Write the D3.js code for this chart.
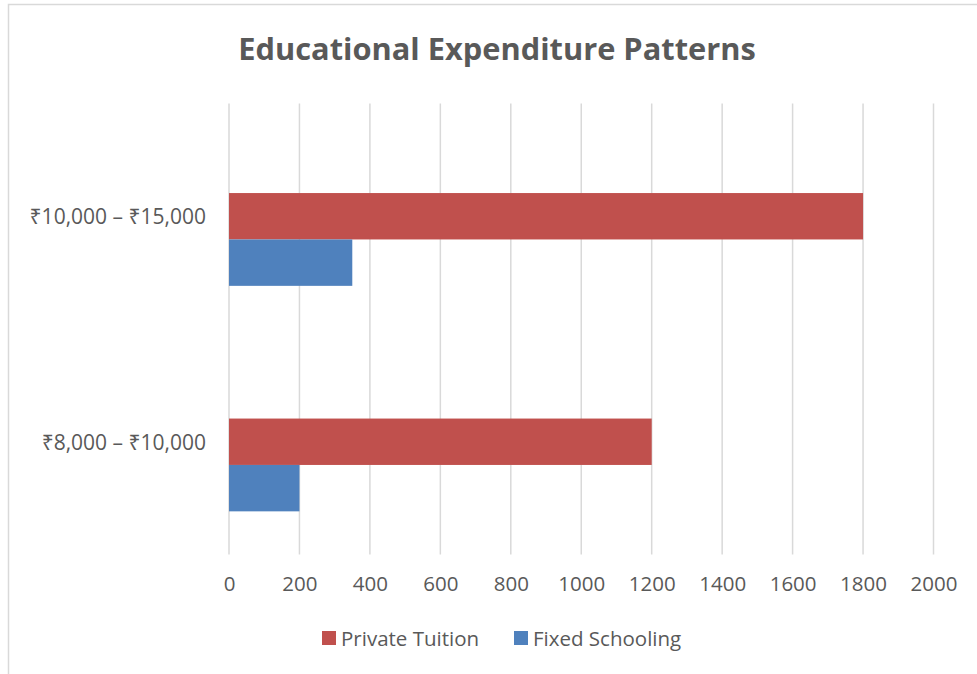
<!DOCTYPE html>
<html>
<head>
<meta charset="utf-8">
<script src="https://cdn.jsdelivr.net/npm/d3@7"></script>
<style>
  body { margin: 0; background: #fff; }
  text { font-family: "Open Sans", "Noto Sans", "DejaVu Sans", sans-serif; fill: #595959; }
</style>
</head>
<body>
<div id="viz"></div>
<script>
var width = 977,
    height = 674;

// data
var categories = ["₹10,000 – ₹15,000", "₹8,000 – ₹10,000"];
var seriesNames = ["Private Tuition", "Fixed Schooling"];
var seriesColors = ["#c0504d", "#4f81bd"];
var privateTuition = [1800, 1200];
var fixedSchooling = [350, 200];
var xTicks = [0, 200, 400, 600, 800, 1000, 1200, 1400, 1600, 1800, 2000];

var seriesValues = [privateTuition, fixedSchooling];

var svg = d3.select("#viz").append("svg")
    .attr("width", width)
    .attr("height", height);

// chart border
svg.append("rect")
    .attr("x", 8.5).attr("y", 4.5)
    .attr("width", 990).attr("height", 690)
    .style("fill", "#fff")
    .style("stroke", "#d9d9d9")
    .style("stroke-width", 1.5);

svg.append("text")
    .attr("x", 497).attr("y", 48)
    .attr("text-anchor", "middle")
    .attr("dominant-baseline", "central")
    .style("font-size", "30.8px")
    .style("font-weight", "bold")
    .text("Educational Expenditure Patterns");

var x = d3.scaleLinear().domain([0, 2000]).range([229, 933.5]);
var y = d3.scaleBand().domain(categories).range([103.5, 554.5]);
// the bar slots: one blank slot above the two series, as in the source chart
var slot = d3.scaleBand().domain(["blank"].concat(seriesNames))
    .range([0, y.bandwidth()])
    .paddingOuter(0.93);

// gridlines
svg.append("g").selectAll("line")
    .data(xTicks)
    .enter().append("line")
    .attr("x1", function(d) { return x(d); })
    .attr("x2", function(d) { return x(d); })
    .attr("y1", 103.5)
    .attr("y2", 554.5)
    .style("stroke", "#d9d9d9")
    .style("stroke-width", 1.5);

// bars
seriesNames.forEach(function(name, s) {
  svg.append("g").selectAll("rect")
      .data(seriesValues[s])
      .enter().append("rect")
      .attr("x", x(0))
      .attr("y", function(d, i) { return y(categories[i]) + slot(name); })
      .attr("width", function(d) { return x(d) - x(0); })
      .attr("height", slot.bandwidth())
      .style("fill", seriesColors[s]);
});

// x axis labels
var xAxis = svg.append("g")
    .attr("transform", "translate(0,583)")
    .call(d3.axisBottom(x).tickValues(xTicks).tickFormat(d3.format("d")).tickSize(0).tickPadding(0));
xAxis.select(".domain").remove();
xAxis.selectAll("text")
    .attr("dy", null)
    .attr("dominant-baseline", "central")
    .style("font-size", "20.5px")
    .style("fill", "#595959");

// y axis labels
var yAxis = svg.append("g")
    .attr("transform", "translate(206,0)")
    .call(d3.axisLeft(y).tickSize(0).tickPadding(0));
yAxis.select(".domain").remove();
yAxis.selectAll("text")
    .attr("dy", null)
    .attr("dominant-baseline", "central")
    .style("font-size", "21px")
    .style("fill", "#595959");

// legend
var legendX = [322, 514];
var legend = svg.append("g").selectAll("g")
    .data(seriesNames)
    .enter().append("g")
    .attr("transform", function(d, i) { return "translate(" + legendX[i] + ",638)"; });
legend.append("rect")
    .attr("x", 0).attr("y", -7)
    .attr("width", 14).attr("height", 14)
    .style("fill", function(d, i) { return seriesColors[i]; });
legend.append("text")
    .attr("x", 19).attr("y", 0)
    .attr("dominant-baseline", "central")
    .style("font-size", "20.5px")
    .text(function(d) { return d; });
</script>
</body>
</html>
